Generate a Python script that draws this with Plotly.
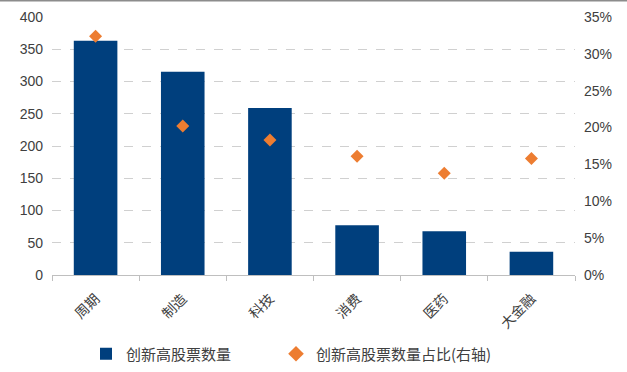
import plotly.graph_objects as go

categories = ["周期", "制造", "科技", "消费", "医药", "大金融"]
counts = [363, 315, 259, 77, 68, 36]
ratios = [0.324, 0.202, 0.183, 0.161, 0.138, 0.158]
left_ticks = [0, 50, 100, 150, 200, 250, 300, 350, 400]
right_ticks = [0, 0.05, 0.10, 0.15, 0.20, 0.25, 0.30, 0.35]

font_cjk = "Noto Sans CJK SC, Liberation Sans, sans-serif"

fig = go.Figure()
fig.add_trace(go.Bar(
    x=categories, y=counts, name="创新高股票数量",
    marker=dict(color="#003F7D", line=dict(width=0)),
    width=0.5, legend="legend",
))
fig.add_trace(go.Scatter(
    x=categories, y=ratios, name="创新高股票数量占比(右轴)", yaxis="y2",
    mode="markers", legend="legend2",
    marker=dict(symbol="diamond", size=10, color="#ED7D31"),
))

W, H = 627, 372
ml, mr, mt, mb = 52, 52, 17, 97
pw = W - ml - mr
ph = H - mt - mb

leg_common = dict(orientation="h", xref="container", yref="container",
                  xanchor="left", y=(H - 354) / H, yanchor="middle",
                  font=dict(size=15, color="#404040"), itemsizing="constant",
                  itemwidth=30, bgcolor="rgba(0,0,0,0)")

fig.update_layout(
    width=W, height=H,
    margin=dict(l=ml, r=mr, t=mt, b=mb, autoexpand=False),
    paper_bgcolor="white", plot_bgcolor="white",
    font=dict(family=font_cjk, size=13, color="#404040"),
    showlegend=True,
    legend=dict(x=86 / W, **leg_common),
    legend2=dict(x=276 / W, **leg_common),
    bargap=0.5,
    xaxis=dict(
        type="category", tickangle=-45, showgrid=False, automargin=False,
        showline=True, linecolor="#BFBFBF", linewidth=1,
        ticks="outside", tickson="boundaries", ticklen=5, tickcolor="#BFBFBF",
        tickfont=dict(size=14, color="#404040", family=font_cjk),
        ticklabelstandoff=9,
    ),
    yaxis=dict(
        range=[0, 400], tickvals=left_ticks, showgrid=True, automargin=False,
        gridcolor="#D0D0D0", griddash="dash", gridwidth=1,
        zeroline=False, showline=False,
        tickfont=dict(size=14, color="#404040", family="Liberation Sans, Arial, sans-serif"),
        ticks="", ticklabelstandoff=8,
    ),
    yaxis2=dict(
        range=[0, 0.35], tickvals=right_ticks, tickformat=".0%", automargin=False,
        overlaying="y", side="right", showgrid=False, zeroline=False, showline=False,
        tickfont=dict(size=14, color="#404040", family="Liberation Sans, Arial, sans-serif"),
        ticks="", ticklabelstandoff=8,
    ),
    shapes=[dict(type="line", xref="paper", yref="paper",
                 x0=-ml / pw, x1=1 + mr / pw,
                 y0=1 + (mt - 0.8) / ph, y1=1 + (mt - 0.8) / ph,
                 line=dict(color="#8C8C8C", width=1.5))],
)

fig.write_html("out.html")
